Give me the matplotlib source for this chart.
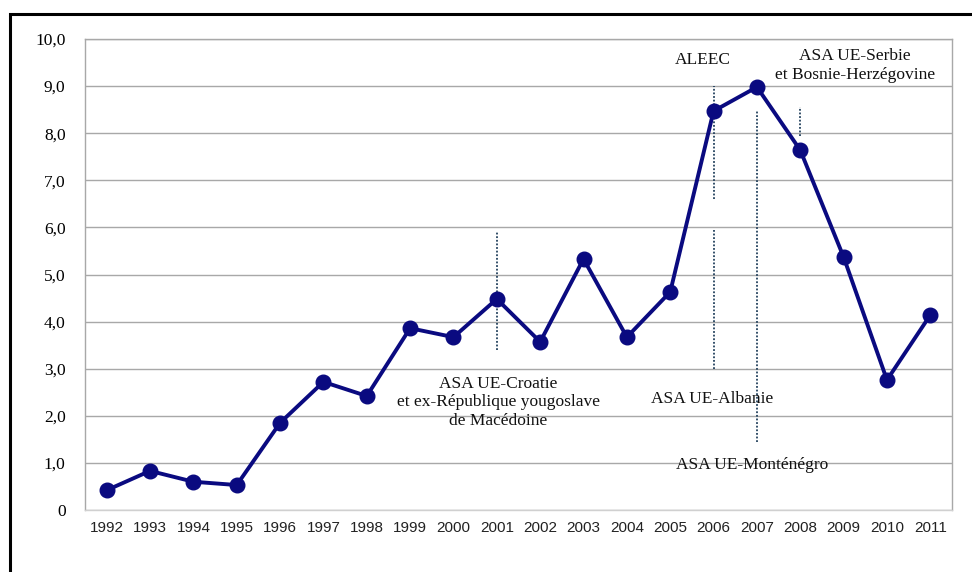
import matplotlib
matplotlib.use("Agg")
import matplotlib.pyplot as plt
from matplotlib.patches import Rectangle

years = [str(y) for y in range(1992, 2012)]
values = [0.42, 0.83, 0.60, 0.53, 1.85, 2.72, 2.42, 3.86, 3.67, 4.48,
          3.57, 5.33, 3.67, 4.63, 8.47, 8.98, 7.64, 5.37, 2.76, 4.14]

# dotted markers: (year, bottom, top)
marker_years = ["2001", "2006", "2006", "2007", "2008"]
marker_low = [3.4, 6.6, 3.0, 1.45, 7.95]
marker_high = [5.9, 9.0, 5.95, 8.5, 8.55]

# annotations: text, year position offset, y
notes = ["ALEEC",
         "ASA UE-Serbie\net Bosnie-Herzégovine",
         "ASA UE-Croatie\net ex-République yougoslave\nde Macédoine",
         "ASA UE-Albanie",
         "ASA UE-Monténégro"]
note_x = [13.76, 17.26, 9.03, 13.96, 14.89]
note_y = [9.55, 9.44, 2.29, 2.36, 0.96]

W, H = 972, 572
fig = plt.figure(figsize=(W / 100, H / 100), dpi=100)

# outer frame (left and top visible, the rest is cropped)
fig.patches.append(Rectangle((10 / W, -0.1), 1.2, (572 - 13.5) / H + 0.1,
                             transform=fig.transFigure, fill=False,
                             edgecolor="black", linewidth=2.2))

ax = fig.add_axes([85 / W, (H - 510) / H, (952 - 85) / W, (510 - 39) / H])

x = list(range(len(years)))
ax.plot(x, values, color="#0a0a80", linewidth=2.8, marker="o",
        markersize=10.5, zorder=3)

idx = [years.index(y) for y in marker_years]
ax.vlines(idx, marker_low, marker_high, colors="#24425e",
          linestyles=(0, (1, 1)), linewidth=1.3, zorder=2)

for t, nx, ny in zip(notes, note_x, note_y):
    ax.text(nx, ny, t, ha="center", va="center", fontsize=12.5,
            family="Liberation Serif", linespacing=1.2, color="#111111")

ax.set_xlim(-0.5, len(years) - 0.5)
ax.set_ylim(0, 10)
ax.set_xticks(x)
ax.set_xticklabels(years, family="Liberation Sans", fontsize=11,
                   color="#222222")
yt = list(range(0, 11))
ax.set_yticks(yt)
ax.set_yticklabels(["0" if v == 0 else f"{v},0" for v in yt],
                   family="Liberation Serif", fontsize=12.5)
ax.tick_params(axis="x", length=0, pad=8)
ax.tick_params(axis="y", length=0, pad=14)

ax.grid(axis="y", color="#a8a8a8", linewidth=1.0)
ax.set_axisbelow(True)
for s in ax.spines.values():
    s.set_color("#a8a8a8")
    s.set_linewidth(1.0)
ax.spines["bottom"].set_color("#d0d0d0")

fig.savefig("out.png", dpi=100)
